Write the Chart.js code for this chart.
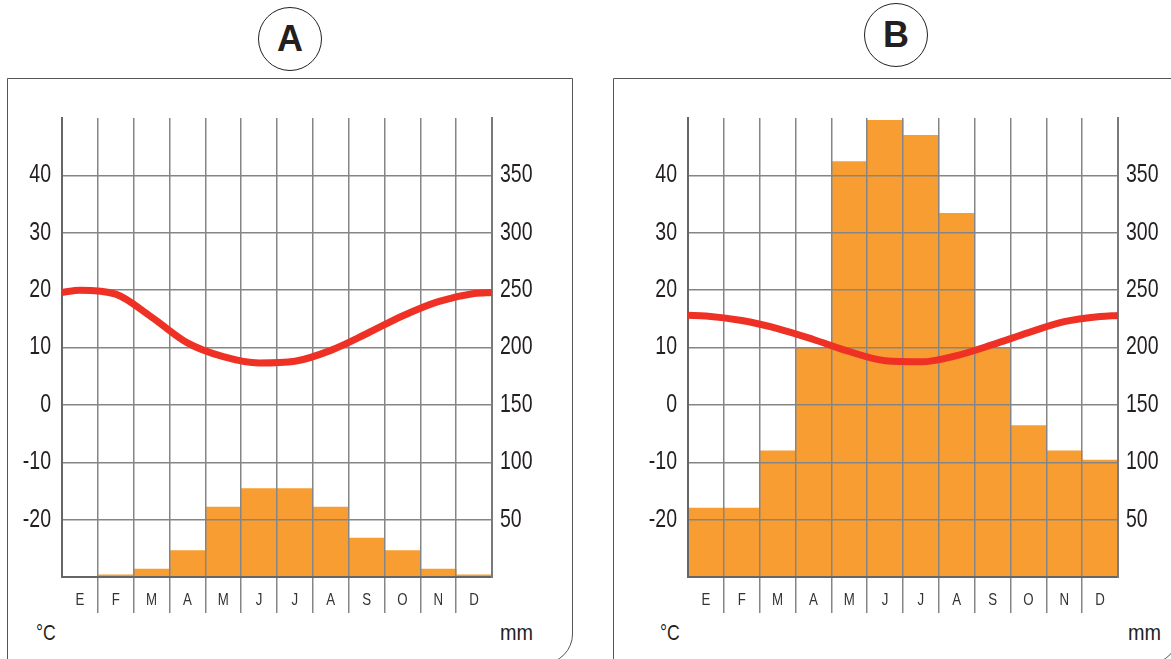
<!DOCTYPE html>
<html>
<head>
<meta charset="utf-8">
<script src="https://cdn.jsdelivr.net/npm/chart.js@4.4.1/dist/chart.umd.min.js"></script>
<style>
  html, body { margin: 0; padding: 0; background: #fff; }
  body { width: 1171px; height: 659px; position: relative; overflow: hidden; }
  .frame { position: absolute; border: 1.5px solid #555; border-bottom-right-radius: 30px; box-sizing: border-box; }
  .badge { position: absolute; width: 64px; height: 64px; border: 1.5px solid #222; border-radius: 50%; box-sizing: border-box;
           font: bold 36px 'Liberation Sans', Arial, sans-serif; color: #231f20; text-align: center; line-height: 61px; }
  .unit { position: absolute; font: 22px 'Liberation Sans', Arial, sans-serif; color: #231f20; line-height: 1;
          transform-origin: left top; }
  canvas { position: absolute; top: 0; }
</style>
</head>
<body>
<div class="frame" style="left:7px; top:78px; width:566px; height:586px;"></div>
<div class="frame" style="left:613px; top:78px; width:566px; height:586px;"></div>
<div class="badge" style="left:258px; top:7px;">A</div>
<div class="badge" style="left:864px; top:3px;">B</div>
<div class="unit" style="left:36px; top:622px; transform: scaleX(0.8);">°C</div>
<div class="unit" style="left:500px; top:622px; transform: scaleX(0.9);">mm</div>
<div class="unit" style="left:660px; top:622px; transform: scaleX(0.8);">°C</div>
<div class="unit" style="left:1128px; top:622px; transform: scaleX(0.9);">mm</div>
<canvas id="chartA" width="585" height="659" style="left:0;"></canvas>
<canvas id="chartB" width="571" height="659" style="left:600px;"></canvas>
<script>
// Month initials (Spanish)
const months = ['E', 'F', 'M', 'A', 'M', 'J', 'J', 'A', 'S', 'O', 'N', 'D'];

// Station A: mean temperature (°C) per month, and the value at the year boundary
const tempA = [20.0, 19.3, 15.3, 10.8, 8.4, 7.3, 7.6, 9.5, 12.4, 15.5, 18.0, 19.4];
const tempAEdges = [19.6, 19.6];
// Station A: precipitation (mm) per month
const precA = [0, 2, 7, 23, 61, 77, 77, 61, 34, 23, 7, 2];

// Station B: mean temperature (°C) per month, and the value at the year boundary
const tempB = [15.5, 14.7, 13.3, 11.4, 9.3, 7.7, 7.5, 8.6, 10.5, 12.6, 14.5, 15.4];
const tempBEdges = [15.6, 15.6];
// Station B: precipitation (mm) per month
const precB = [60, 60, 110, 200, 362, 398, 385, 317, 200, 132, 110, 102];

// Axis ranges and labelled ticks
const tempRange = [-30, 50];
const tempLabelled = [-20, -10, 0, 10, 20, 30, 40];
const precRange = [0, 400];
const precLabelled = [50, 100, 150, 200, 250, 300, 350];

const FONT = "'Liberation Sans', Arial, sans-serif";
const NARROW = 0.78;          // horizontal squeeze for axis text (condensed look)
const TEXT = '#231f20';
const GRID = '#858585';
const BAR = '#f89d32';
const RED = '#ee3124';
const CLEAR = 'rgba(0,0,0,0)';

// Temperature curve on a 0..12 month axis: boundary value, monthly midpoints, boundary value
function curvePoints(temps, edges) {
  const pts = [{ x: 0, y: edges[0] }];
  temps.forEach((t, i) => pts.push({ x: i + 0.5, y: t }));
  pts.push({ x: temps.length, y: edges[1] });
  return pts;
}

// Condensed text: squeeze every label horizontally around its own anchor point
const condensedText = {
  id: 'condensedText',
  beforeInit(chart) {
    const ctx = chart.ctx;
    const fill = ctx.fillText;
    ctx.fillText = function (text, x, y, maxWidth) {
      this.save();
      this.scale(NARROW, 1);
      if (maxWidth === undefined) fill.call(this, text, x / NARROW, y);
      else fill.call(this, text, x / NARROW, y, maxWidth / NARROW);
      this.restore();
    };
  }
};

// Draw the temperature curve last, so grid lines sit over the bars but under the curve
const curveOnTop = {
  id: 'curveOnTop',
  beforeDatasetDraw(chart, args) {
    if (chart.data.datasets[args.index].type === 'line') return false;
  },
  afterDraw(chart) {
    const { ctx, chartArea: a } = chart;
    chart.data.datasets.forEach((ds, i) => {
      if (ds.type !== 'line') return;
      ctx.save();
      ctx.beginPath();
      ctx.rect(a.left, a.top, a.right - a.left, a.bottom - a.top);
      ctx.clip();
      chart.getDatasetMeta(i).controller.draw();
      ctx.restore();
    });
  }
};

function climograph(id, temps, edges, prec, leftW, rightW) {
  const edgeLine = (c) => (c.index === undefined || c.index === 0) ? CLEAR : GRID;
  return new Chart(document.getElementById(id), {
    type: 'bar',
    data: {
      labels: months,
      datasets: [
        {
          type: 'bar', data: prec, xAxisID: 'x', yAxisID: 'yr',
          backgroundColor: BAR, borderWidth: 0, grouped: false,
          barPercentage: 1, categoryPercentage: 1
        },
        {
          type: 'line', data: curvePoints(temps, edges), xAxisID: 'xl', yAxisID: 'y',
          borderColor: RED, borderWidth: 7, pointRadius: 0, fill: false,
          cubicInterpolationMode: 'monotone', borderCapStyle: 'butt'
        }
      ]
    },
    options: {
      responsive: false,
      animation: false,
      devicePixelRatio: 1,
      layout: { padding: { top: 118, left: 0, right: 0, bottom: 0 } },
      plugins: { legend: { display: false }, tooltip: { enabled: false } },
      scales: {
        x: {
          type: 'category', position: 'bottom', offset: true,
          grid: {
            offset: true, z: 1, lineWidth: 1.5, color: edgeLine, tickColor: edgeLine,
            drawTicks: true, tickLength: 36, tickWidth: 1.5
          },
          border: { color: '#666', width: 2, z: 1 },
          ticks: { color: '#333', font: { family: FONT, size: 17 }, padding: -23, autoSkip: false, maxRotation: 0 },
          afterFit: (s) => { s.height = 82; }
        },
        xl: { type: 'linear', display: false, offset: false, min: 0, max: months.length },
        y: {
          type: 'linear', position: 'left', min: tempRange[0], max: tempRange[1],
          grid: {
            z: 1, lineWidth: 1.5, drawTicks: false,
            color: (c) => tempLabelled.includes(c.tick.value) ? GRID : CLEAR
          },
          border: { color: '#666', width: 2, z: 1 },
          ticks: {
            stepSize: 10, padding: 11, color: TEXT, font: { family: FONT, size: 25 },
            callback: (v) => tempLabelled.includes(v) ? String(v) : ''
          },
          afterFit: (s) => { s.width = leftW; }
        },
        yr: {
          type: 'linear', position: 'right', min: precRange[0], max: precRange[1],
          grid: { display: true, color: CLEAR, drawTicks: false, z: 1 },
          border: { color: '#7a7a7a', width: 2, z: 1 },
          ticks: {
            stepSize: 50, padding: 8, color: TEXT, font: { family: FONT, size: 25 },
            callback: (v) => precLabelled.includes(v) ? String(v) : ''
          },
          afterFit: (s) => { s.width = rightW; }
        }
      }
    },
    plugins: [condensedText, curveOnTop]
  });
}

climograph('chartA', tempA, tempAEdges, precA, 62, 93);
climograph('chartB', tempB, tempBEdges, precB, 88, 53);
</script>
</body>
</html>
